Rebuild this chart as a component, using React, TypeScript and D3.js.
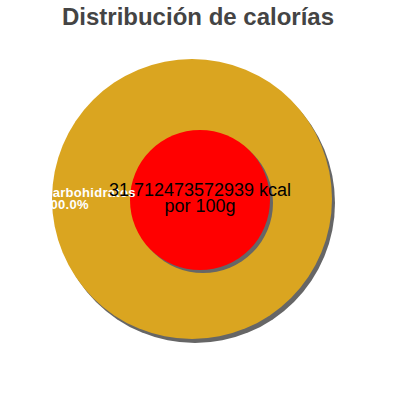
import { useEffect, useRef } from 'react'
import * as d3 from 'd3'

const categories = ['Carbohidratos']
const values = [100]
const colors = ['#daa520']
const totalKcal = '31.712473572939'
const title = 'Distribución de calorías'

export default function App() {
  const svgRef = useRef<SVGSVGElement>(null)

  useEffect(() => {
    if (!svgRef.current) return
    const svg = d3.select(svgRef.current)
    svg.selectAll('*').remove()

    const width = 400
    const height = 400
    const cx = 192
    const cy = 199
    const radius = 140
    const innerR = 70

    svg.append('rect').attr('width', width).attr('height', height).attr('fill', '#fff')

    // Title
    svg.append('text')
      .attr('x', 198)
      .attr('y', 25)
      .attr('text-anchor', 'middle')
      .attr('font-family', 'Liberation Sans, Arial, sans-serif')
      .attr('font-size', '24px')
      .attr('font-weight', 'bold')
      .attr('fill', '#444')
      .text(title)

    const total = d3.sum(values)
    const data = categories.map((c, i) => ({ name: c, value: values[i], color: colors[i] }))
    const pie = d3.pie<typeof data[number]>().value(d => d.value).sort(null)
    const arc = d3.arc<d3.PieArcDatum<typeof data[number]>>().innerRadius(0).outerRadius(radius)

    // Outer shadow
    const g = svg.append('g').attr('transform', `translate(${cx},${cy})`)
    g.selectAll('path.shadow')
      .data(pie(data))
      .join('path')
      .attr('class', 'shadow')
      .attr('transform', 'translate(3,4)')
      .attr('d', arc)
      .attr('fill', '#666')

    g.selectAll('path.slice')
      .data(pie(data))
      .join('path')
      .attr('class', 'slice')
      .attr('d', arc)
      .attr('fill', d => d.data.color)

    // Inner circle with shadow
    const ix = 200
    const iy = 200
    svg.append('circle').attr('cx', ix + 3).attr('cy', iy + 3).attr('r', innerR).attr('fill', '#666')
    svg.append('circle').attr('cx', ix).attr('cy', iy).attr('r', innerR).attr('fill', '#ff0000')

    // Slice labels (white, left-aligned), drawn over the inner circle
    data.forEach(d => {
      const lbl = svg.append('text')
        .attr('font-family', 'Liberation Sans, Arial, sans-serif')
        .attr('font-size', '13px')
        .attr('font-weight', 'bold')
        .attr('fill', '#fff')
        .attr('letter-spacing', '0.3px')
      lbl.append('tspan').attr('x', 43).attr('y', 197).text(d.name)
      lbl.append('tspan').attr('x', 43).attr('y', 209).text(`${((d.value / total) * 100).toFixed(1)}%`)
    })

    const center = svg.append('text')
      .attr('text-anchor', 'middle')
      .attr('font-family', 'Liberation Sans, Arial, sans-serif')
      .attr('font-size', '18px')
      .attr('fill', '#000')
    center.append('tspan').attr('x', ix).attr('y', 196).text(`${totalKcal} kcal`)
    center.append('tspan').attr('x', ix).attr('y', 212).text('por 100g')
  }, [])

  return (
    <svg
      ref={svgRef}
      width={400}
      height={400}
      style={{ position: 'absolute', left: 0, top: 0 }}
    />
  )
}
